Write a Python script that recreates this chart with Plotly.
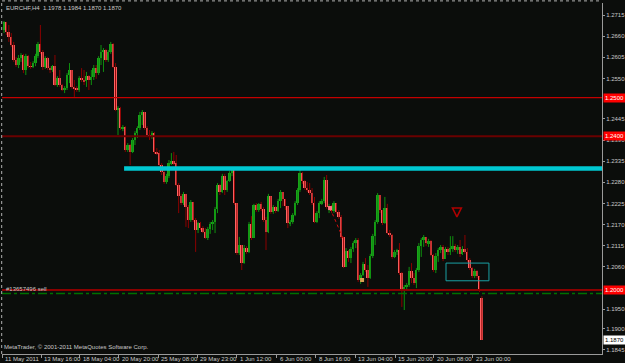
import plotly.graph_objects as go

# ---------------- data ----------------
symbol_title = "EURCHF,H4  1.1978 1.1984 1.1870 1.1870"
first_open = 1.2676
last_open = 1.1978  # from header O H L C of the last bar

closes = [
    1.2697, 1.2671, 1.2658, 1.2637, 1.2598, 1.2585, 1.2603, 1.2611, 1.2572, 1.2608,
    1.2582, 1.2580, 1.2590, 1.2608, 1.2640, 1.2619, 1.2580, 1.2603, 1.2577, 1.2572,
    1.2582, 1.2533, 1.2551, 1.2533, 1.2520, 1.2525, 1.2559, 1.2572, 1.2528, 1.2523,
    1.2520, 1.2551, 1.2546, 1.2543, 1.2556, 1.2546, 1.2554, 1.2577, 1.2564, 1.2603,
    1.2619, 1.2624, 1.2598, 1.2619, 1.2640, 1.2580, 1.2468, 1.2473, 1.2421, 1.2424,
    1.2364, 1.2377, 1.2359, 1.2390, 1.2408, 1.2421, 1.2455, 1.2463, 1.2421, 1.2403,
    1.2398, 1.2408, 1.2359, 1.2356, 1.2325, 1.2307, 1.2281, 1.2296, 1.2330, 1.2335,
    1.2330, 1.2273, 1.2244, 1.2226, 1.2250, 1.2216, 1.2182, 1.2229, 1.2182, 1.2156,
    1.2174, 1.2161, 1.2151, 1.2135, 1.2159, 1.2172, 1.2177, 1.2211, 1.2273, 1.2255,
    1.2296, 1.2260, 1.2283, 1.2304, 1.2312, 1.2226, 1.2096, 1.2117, 1.2070, 1.2109,
    1.2099, 1.2172, 1.2135, 1.2221, 1.2208, 1.2224, 1.2211, 1.2182, 1.2151, 1.2244,
    1.2203, 1.2216, 1.2205, 1.2231, 1.2255, 1.2237, 1.2218, 1.2174, 1.2177, 1.2195,
    1.2226, 1.2260, 1.2304, 1.2283, 1.2265, 1.2260, 1.2252, 1.2226, 1.2177, 1.2200,
    1.2226, 1.2231, 1.2286, 1.2216, 1.2218, 1.2205, 1.2226, 1.2203, 1.2190, 1.2138,
    1.2060, 1.2101, 1.2083, 1.2107, 1.2122, 1.2130, 1.2026, 1.2039, 1.2068, 1.2052,
    1.2031, 1.2088, 1.2140, 1.2177, 1.2247, 1.2208, 1.2174, 1.2213, 1.2148, 1.2143,
    1.2086, 1.2099, 1.2104, 1.2044, 1.2000, 1.2008, 1.2013, 1.2049, 1.2031, 1.2018,
    1.2052, 1.2114, 1.2130, 1.2138, 1.2122, 1.2127, 1.2091, 1.2052, 1.2088, 1.2104,
    1.2112, 1.2081, 1.2107, 1.2099, 1.2109, 1.2114, 1.2104, 1.2112, 1.2094, 1.2107,
    1.2099, 1.2078, 1.2057, 1.2036, 1.2049, 1.2036, 1.2000, 1.1870,
]
highs = [
    1.2699, 1.2681, 1.2689, 1.2668, 1.2645, 1.2606, 1.2611, 1.2616, 1.2614, 1.2614,
    1.2611, 1.2593, 1.2595, 1.2614, 1.2645, 1.2689, 1.2624, 1.2608, 1.2606, 1.2582,
    1.2585, 1.2611, 1.2556, 1.2572, 1.2536, 1.2530, 1.2564, 1.2590, 1.2572, 1.2546,
    1.2530, 1.2556, 1.2577, 1.2572, 1.2567, 1.2559, 1.2572, 1.2585, 1.2585, 1.2608,
    1.2637, 1.2629, 1.2627, 1.2624, 1.2645, 1.2642, 1.2590, 1.2478, 1.2476, 1.2429,
    1.2426, 1.2382, 1.2380, 1.2395, 1.2413, 1.2426, 1.2463, 1.2468, 1.2460, 1.2426,
    1.2416, 1.2413, 1.2411, 1.2369, 1.2364, 1.2330, 1.2312, 1.2302, 1.2338, 1.2356,
    1.2359, 1.2351, 1.2278, 1.2250, 1.2255, 1.2239, 1.2221, 1.2234, 1.2221, 1.2187,
    1.2177, 1.2177, 1.2166, 1.2161, 1.2164, 1.2177, 1.2182, 1.2216, 1.2278, 1.2276,
    1.2302, 1.2302, 1.2286, 1.2309, 1.2317, 1.2317, 1.2226, 1.2138, 1.2117, 1.2117,
    1.2114, 1.2177, 1.2192, 1.2224, 1.2226, 1.2226, 1.2229, 1.2216, 1.2190, 1.2250,
    1.2244, 1.2221, 1.2218, 1.2237, 1.2260, 1.2252, 1.2234, 1.2218, 1.2182, 1.2200,
    1.2231, 1.2265, 1.2312, 1.2307, 1.2286, 1.2281, 1.2278, 1.2265, 1.2242, 1.2205,
    1.2231, 1.2237, 1.2294, 1.2299, 1.2224, 1.2221, 1.2231, 1.2226, 1.2208, 1.2195,
    1.2138, 1.2109, 1.2104, 1.2112, 1.2127, 1.2135, 1.2135, 1.2044, 1.2073, 1.2083,
    1.2065, 1.2094, 1.2146, 1.2182, 1.2252, 1.2242, 1.2208, 1.2242, 1.2224, 1.2156,
    1.2146, 1.2104, 1.2107, 1.2122, 1.2047, 1.2013, 1.2018, 1.2060, 1.2070, 1.2044,
    1.2057, 1.2122, 1.2135, 1.2143, 1.2138, 1.2133, 1.2130, 1.2094, 1.2096, 1.2109,
    1.2117, 1.2117, 1.2112, 1.2112, 1.2140, 1.2140, 1.2120, 1.2117, 1.2130, 1.2114,
    1.2143, 1.2109, 1.2083, 1.2060, 1.2055, 1.2052, 1.2036, 1.1984,
]
lows = [
    1.2668, 1.2663, 1.2645, 1.2632, 1.2593, 1.2580, 1.2577, 1.2593, 1.2564, 1.2559,
    1.2577, 1.2575, 1.2577, 1.2582, 1.2603, 1.2614, 1.2572, 1.2575, 1.2572, 1.2564,
    1.2567, 1.2530, 1.2528, 1.2528, 1.2517, 1.2512, 1.2520, 1.2538, 1.2523, 1.2502,
    1.2515, 1.2515, 1.2541, 1.2533, 1.2528, 1.2520, 1.2533, 1.2546, 1.2549, 1.2559,
    1.2585, 1.2567, 1.2593, 1.2593, 1.2614, 1.2577, 1.2465, 1.2403, 1.2416, 1.2413,
    1.2359, 1.2359, 1.2325, 1.2356, 1.2377, 1.2395, 1.2416, 1.2429, 1.2416, 1.2398,
    1.2390, 1.2393, 1.2354, 1.2351, 1.2320, 1.2299, 1.2276, 1.2276, 1.2291, 1.2325,
    1.2325, 1.2270, 1.2200, 1.2221, 1.2221, 1.2164, 1.2161, 1.2177, 1.2177, 1.2099,
    1.2148, 1.2156, 1.2148, 1.2133, 1.2130, 1.2146, 1.2156, 1.2148, 1.2200, 1.2247,
    1.2252, 1.2247, 1.2255, 1.2281, 1.2296, 1.2221, 1.2091, 1.2091, 1.2052, 1.2068,
    1.2094, 1.2096, 1.2130, 1.2135, 1.2203, 1.2203, 1.2205, 1.2177, 1.2104, 1.2148,
    1.2198, 1.2198, 1.2200, 1.2203, 1.2213, 1.2218, 1.2208, 1.2161, 1.2166, 1.2172,
    1.2192, 1.2221, 1.2255, 1.2276, 1.2260, 1.2255, 1.2247, 1.2221, 1.2174, 1.2174,
    1.2187, 1.2221, 1.2226, 1.2211, 1.2200, 1.2200, 1.2200, 1.2198, 1.2185, 1.2133,
    1.2057, 1.2060, 1.2073, 1.2070, 1.2099, 1.2109, 1.2021, 1.2016, 1.2036, 1.2047,
    1.2008, 1.2029, 1.2083, 1.2117, 1.2172, 1.2200, 1.2169, 1.2172, 1.2146, 1.2138,
    1.2081, 1.2083, 1.2091, 1.2039, 1.1956, 1.1948, 1.2000, 1.2008, 1.2018, 1.2013,
    1.2005, 1.2047, 1.2086, 1.2112, 1.2114, 1.2112, 1.2088, 1.2047, 1.2044, 1.2073,
    1.2096, 1.2075, 1.2081, 1.2091, 1.2091, 1.2099, 1.2099, 1.2094, 1.2086, 1.2091,
    1.2094, 1.2073, 1.2052, 1.2031, 1.2031, 1.2031, 1.1995, 1.1870,
]

# time-axis labels and the bar positions they sit at
x_tick_labels = ["11 May 2011", "13 May 16:00", "18 May 04:00", "20 May 20:00",
                 "25 May 08:00", "29 May 23:00", "1 Jun 12:00", "6 Jun 00:00",
                 "8 Jun 16:00", "13 Jun 04:00", "15 Jun 20:00", "20 Jun 08:00",
                 "23 Jun 00:00"]
x_tick_bars = [-0.75, 15.3, 31.3, 47.4, 63.5, 79.6, 96.0, 112.5, 128.6, 144.7,
               161.2, 177.2, 193.3]

# price-axis labels (those not hidden under the level boxes)
y_tick_vals = [1.2715, 1.2660, 1.2605, 1.2550, 1.2445, 1.2390, 1.2335,
               1.2280, 1.2225, 1.2170, 1.2115, 1.2060, 1.1950, 1.1900, 1.1845]
y_tick_text = ["1.2715", "1.2660", "1.2605", "1.2550", "1.2445", "1.2390",
               "1.2335", "1.2280", "1.2225", "1.2170", "1.2115", "1.2060",
               "1.1950", "1.1900", "1.1845"]

# horizontal levels
level_1250 = 1.2500
level_1240 = 1.2400
level_1200 = 1.2000
order_level = 1.1991
order_label = "#13657496 sell"
cyan_level = 1.2316
cyan_start_bar = 49.5
bid_price = 1.1870

# rectangle and markers
rect_bars = (182.2, 199.9)
rect_prices = (1.2024, 1.2070)
sell_arrow = (186.7, 1.2190)
trade_line_bars = [134.4, 139.7]
trade_line_prices = [1.2213, 1.2135]
close_marker = (147.6, 1.2026)

copyright_text = "MetaTrader, \u00a9 2001-2011 MetaQuotes Software Corp."

# ---------------- figure ----------------
FONT = "Liberation Sans, Arial"
FS = 6
TXT = "#c8c8c8"
BG = "#0b0d0b"
AX = "#9a9a9a"

n = len(closes)
opens = [first_open] + closes[:-1]
opens[-1] = last_open
idx = list(range(n))

UP_BODY, UP_WICK = "#1aa31a", "#0f900f"
DN_BODY, DN_WICK = "#ff6464", "#8c0000"

fig = go.Figure()

for up in (True, False):
    wx, wy = [], []
    for i in idx:
        o, c = opens[i], closes[i]
        if (c >= o) != up:
            continue
        wx += [i, i, None]
        wy += [min(lows[i], o, c), max(highs[i], o, c), None]
    fig.add_trace(go.Scatter(x=wx, y=wy, mode="lines",
                             line=dict(color=UP_WICK if up else DN_WICK, width=1),
                             hoverinfo="skip"))

for up in (True, False):
    bx, bb, bh = [], [], []
    for i in idx:
        o, c = opens[i], closes[i]
        if (c >= o) != up:
            continue
        bx.append(i)
        bb.append(min(o, c))
        bh.append(max(abs(c - o), 0.00004))
    fig.add_trace(go.Bar(x=bx, y=bh, base=bb, width=0.8,
                         marker=dict(color=UP_BODY if up else DN_BODY, line=dict(width=0))))

# trade history line and markers
fig.add_trace(go.Scatter(x=trade_line_bars, y=trade_line_prices, mode="lines",
                         line=dict(color="#d01010", width=1, dash="dot")))
fig.add_trace(go.Scatter(x=[trade_line_bars[0]], y=[trade_line_prices[0]], mode="markers",
                         marker=dict(symbol="square", size=4, color="#ff7080")))
fig.add_trace(go.Scatter(x=[close_marker[0]], y=[close_marker[1]], mode="markers",
                         marker=dict(symbol="square", size=4, color="#d8a050")))
# sell arrow
fig.add_trace(go.Scatter(x=[sell_arrow[0]], y=[sell_arrow[1]], mode="markers",
                         marker=dict(symbol="arrow-down-open", size=9, color="#b00000",
                                     line=dict(color="#b00000", width=1.5))))

xmin, xmax = -0.82, 246.5
ymin, ymax = 1.18336, 1.27462

shapes = []
shapes.append(dict(type="line", xref="paper", yref="y", x0=0, x1=1, y0=level_1250, y1=level_1250,
                   line=dict(color="#c40000", width=1.2)))
shapes.append(dict(type="line", xref="paper", yref="y", x0=0, x1=1, y0=level_1240, y1=level_1240,
                   line=dict(color="#6a0000", width=2)))
shapes.append(dict(type="line", xref="paper", yref="y", x0=0, x1=1, y0=level_1200, y1=level_1200,
                   line=dict(color="#8a0000", width=2)))
shapes.append(dict(type="line", xref="paper", yref="y", x0=0, x1=1, y0=order_level, y1=order_level,
                   line=dict(color="#007000", width=1.5, dash="dashdot")))
shapes.append(dict(type="line", xref="x", yref="y", x0=cyan_start_bar, x1=xmax,
                   y0=cyan_level, y1=cyan_level, line=dict(color="#00c8d2", width=4.5)))
shapes.append(dict(type="rect", xref="x", yref="y", x0=rect_bars[0], x1=rect_bars[1],
                   y0=rect_prices[0], y1=rect_prices[1], line=dict(color="#1aa0a4", width=1)))
shapes.append(dict(type="line", xref="paper", yref="paper", x0=-0.0005, x1=-0.0005, y0=0, y1=1.006,
                   line=dict(color="#b0b0b0", width=1, dash="dot")))
shapes.append(dict(type="line", xref="paper", yref="paper", x0=0, x1=1, y0=1.006, y1=1.006,
                   line=dict(color="#b0b0b0", width=1, dash="dot")))

annotations = []
annotations.append(dict(text=symbol_title, xref="paper", yref="paper", x=0.003, y=1.0,
                        xanchor="left", yanchor="top", showarrow=False,
                        font=dict(family=FONT, size=FS, color=TXT)))
annotations.append(dict(text=copyright_text, xref="paper", yref="paper", x=0.0, y=0.0,
                        xanchor="left", yanchor="bottom", yshift=2, showarrow=False,
                        font=dict(family=FONT, size=FS, color=TXT)))
annotations.append(dict(text=order_label, xref="paper", yref="y", x=0.003, y=order_level,
                        xanchor="left", yanchor="bottom", yshift=-1, showarrow=False,
                        font=dict(family=FONT, size=FS, color=TXT)))
for lab, xb in zip(x_tick_labels, x_tick_bars):
    annotations.append(dict(text=lab, xref="x", yref="paper", x=xb, y=0, xanchor="left",
                            yanchor="top", xshift=1, yshift=0, showarrow=False,
                            font=dict(family=FONT, size=FS, color=TXT)))
for lvl, bg, fg in ((level_1250, "#ff0000", "#ffffff"), (level_1240, "#ff0000", "#ffffff"),
                    (level_1200, "#ff0000", "#ffffff"), (bid_price, "#ffffff", "#000000")):
    annotations.append(dict(text=f"{lvl:.4f}", xref="paper", yref="y", x=1, y=lvl,
                            xanchor="left", yanchor="middle", xshift=1, showarrow=False,
                            bgcolor=bg, borderpad=0, width=21, height=8,
                            font=dict(family=FONT, size=FS, color=fg)))

fig.update_layout(
    template="none", width=625, height=363,
    margin=dict(l=2, r=23, t=3, b=9),
    paper_bgcolor=BG, plot_bgcolor=BG, showlegend=False,
    barmode="overlay", bargap=0,
    shapes=shapes, annotations=annotations,
)
fig.update_xaxes(range=[xmin, xmax], showgrid=False, zeroline=False, automargin=False,
                 tickvals=x_tick_bars, ticktext=[""] * len(x_tick_bars), showticklabels=False,
                 ticks="outside", ticklen=3, tickcolor=AX, tickwidth=1,
                 showline=True, linecolor=AX, linewidth=1)
fig.update_yaxes(range=[ymin, ymax], side="right", showgrid=False, zeroline=False,
                 automargin=False, tickvals=y_tick_vals, ticktext=y_tick_text,
                 ticks="outside", ticklen=2, tickcolor=AX, tickwidth=1,
                 tickfont=dict(family=FONT, size=FS, color=TXT),
                 showline=True, linecolor=AX, linewidth=1)

fig.write_html("out.html")
